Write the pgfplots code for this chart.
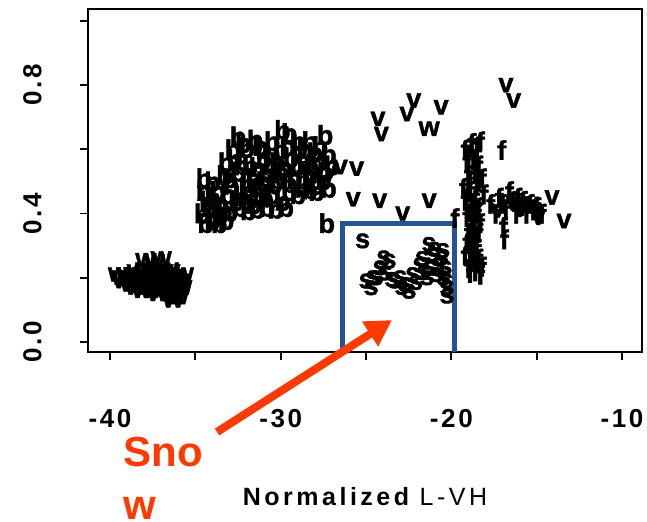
\documentclass[border=0pt]{standalone}
\usepackage{fontspec}
\setmainfont{Liberation Sans}
\usepackage{pgfplots}
\pgfplotsset{compat=1.18}
\usetikzlibrary{arrows.meta}
\newfontfamily\lab[LetterSpace=10]{Liberation Sans}
\newfontfamily\labx[LetterSpace=14]{Liberation Sans}
\newfontface\mkf[FakeBold=1.5]{Liberation Sans Bold}
\definecolor{boxblue}{RGB}{38,84,146}
\definecolor{snowred}{RGB}{255,58,0}
\newcommand{\mk}{\mkf\fontsize{13.5}{13.5}\selectfont}

\pgfplotstableread{
x y
-39.5 0.21
-39.2 0.19
-39.0 0.21
-38.8 0.18
-38.7 0.20
-38.5 0.17
-38.4 0.22
-38.2 0.19
-38.1 0.16
-38.0 0.21
-37.9 0.255
-37.8 0.18
-37.7 0.20
-37.6 0.16
-37.5 0.22
-37.4 0.25
-37.3 0.18
-37.2 0.15
-37.1 0.20
-37.0 0.26
-36.9 0.17
-36.8 0.21
-36.7 0.19
-36.6 0.15
-36.5 0.22
-36.4 0.18
-36.3 0.13
-36.2 0.20
-36.1 0.16
-36.0 0.14
-35.9 0.19
-35.7 0.21
-38.3 0.20
-37.0 0.18
-36.6 0.19
-37.5 0.19
-38.6 0.19
-36.9 0.22
-36.2 0.17
-35.8 0.17
-39.3 0.20
-38.9 0.195
-38.6 0.21
-38.3 0.175
-38.0 0.185
-37.7 0.17
-37.4 0.205
-37.2 0.225
-36.9 0.195
-36.7 0.165
-36.4 0.205
-36.1 0.19
-35.9 0.165
-36.6 0.225
-37.9 0.225
-38.1 0.20
-37.35 0.165
-36.2 0.145
-21.3 0.664
}\wdata

\pgfplotstableread{
x y
-32.5 0.64
-31.5 0.63
-30.5 0.625
-29.9 0.66
-29.5 0.65
-28.3 0.625
-27.4 0.645
-32.8 0.60
-32.0 0.605
-31.2 0.61
-30.5 0.59
-29.6 0.61
-28.9 0.60
-28.0 0.59
-27.2 0.585
-33.2 0.56
-32.7 0.57
-31.8 0.55
-31.0 0.57
-30.2 0.56
-29.4 0.575
-28.6 0.55
-27.8 0.565
-27.0 0.55
-34.5 0.51
-34.0 0.50
-33.3 0.52
-32.5 0.53
-31.6 0.51
-30.8 0.525
-30.0 0.53
-29.2 0.51
-28.3 0.52
-27.5 0.505
-34.5 0.47
-33.7 0.47
-32.9 0.49
-32.0 0.47
-31.2 0.48
-30.4 0.49
-29.5 0.47
-28.7 0.48
-27.9 0.47
-34.3 0.44
-33.5 0.43
-32.6 0.44
-31.6 0.43
-30.9 0.45
-29.9 0.44
-34.6 0.40
-33.9 0.39
-33.0 0.405
-31.9 0.41
-30.3 0.415
-29.7 0.42
-34.4 0.37
-33.6 0.37
-32.2 0.62
-31.0 0.60
-30.0 0.60
-29.0 0.625
-28.6 0.60
-27.7 0.61
-32.3 0.55
-31.4 0.545
-30.6 0.55
-29.8 0.545
-29.0 0.55
-28.2 0.545
-27.4 0.53
-33.0 0.51
-31.9 0.495
-31.0 0.50
-30.2 0.505
-29.5 0.495
-28.7 0.505
-27.9 0.49
-27.2 0.48
-34.0 0.45
-33.1 0.46
-32.3 0.455
-31.2 0.455
-30.5 0.46
-29.0 0.46
-28.3 0.475
-34.2 0.42
-33.3 0.41
-32.4 0.42
-31.4 0.415
-30.8 0.42
-34.0 0.38
-33.2 0.38
-27.3 0.37
}\bdata

\pgfplotstableread{
x y
-27.1 0.535
-26.5 0.545
-25.55 0.54
-25.75 0.445
-24.2 0.44
-22.85 0.40
-21.3 0.44
-24.3 0.695
-24.1 0.648
-22.6 0.71
-22.2 0.752
-20.6 0.731
-16.8 0.80
-16.35 0.752
-14.1 0.45
-13.4 0.377
-17.3 0.41
-16.4 0.435
-15.9 0.415
-15.3 0.43
-14.9 0.39
}\vdata

\pgfplotstableread{
x y
-25.2 0.315
-23.96 0.262
-23.65 0.252
-25.0 0.19
-24.4 0.20
-24.18 0.231
-24.7 0.169
-23.33 0.19
-23.0 0.20
-22.7 0.179
-22.27 0.21
-22.48 0.158
-21.85 0.24
-21.64 0.216
-21.43 0.20
-21.32 0.304
-21.1 0.273
-21.0 0.289
-20.8 0.24
-20.58 0.262
-20.47 0.20
-20.37 0.231
-20.26 0.169
-20.26 0.143
-24.6 0.20
-23.9 0.215
-23.5 0.195
-22.9 0.17
-22.1 0.185
-21.7 0.26
-21.2 0.23
-20.9 0.21
-20.5 0.285
-20.3 0.19
}\sdata

\pgfplotstableread{
x y
-19.2 0.60
-18.8 0.62
-18.5 0.61
-18.3 0.625
-19.1 0.56
-18.7 0.57
-18.4 0.55
-19.0 0.52
-18.6 0.53
-18.2 0.51
-19.3 0.48
-18.9 0.47
-18.5 0.49
-18.1 0.46
-19.2 0.44
-18.8 0.43
-18.4 0.42
-19.1 0.39
-18.7 0.38
-18.3 0.37
-19.0 0.34
-18.6 0.33
-18.9 0.30
-18.5 0.29
-19.2 0.27
-18.7 0.25
-18.4 0.26
-19.0 0.23
-18.6 0.22
-18.2 0.235
-19.0 0.58
-18.5 0.585
-18.9 0.50
-18.4 0.50
-19.1 0.45
-18.6 0.45
-18.9 0.405
-18.5 0.40
-18.8 0.355
-18.4 0.34
-19.1 0.31
-18.7 0.315
-18.9 0.27
-18.5 0.245
-18.9 0.215
-18.3 0.21
-17.7 0.43
-17.2 0.45
-16.8 0.41
-16.4 0.44
-16.0 0.42
-15.6 0.40
-15.2 0.41
-14.9 0.395
-17.4 0.40
-16.6 0.47
-16.1 0.45
-15.4 0.43
-17.0 0.43
-16.2 0.40
-15.8 0.44
-15.0 0.42
-14.7 0.40
-17.05 0.598
-16.95 0.36
-16.9 0.32
-19.8 0.386
}\fdata

\begin{document}
\begin{tikzpicture}
\begin{axis}[
  scale only axis, width=277pt, height=171.5pt,
  xmin=-41.29, xmax=-8.83, ymin=-0.031, ymax=1.037,
  clip=false,
  axis line style={line width=0.9pt},
  every tick/.style={line width=0.9pt, black},
  tick align=outside, major tick length=4pt,
  xtick pos=bottom, ytick pos=left,
  xtick={-40,-35,-30,-25,-20,-15,-10},
  xticklabels={-40,,-30,,-20,,-10},
  ytick={0,0.2,0.4,0.6,0.8,1.0},
  yticklabels={0.0,,0.4,,0.8,},
  xticklabel style={font=\lab\fontsize{13}{15}\selectfont\bfseries, anchor=base, inner sep=0pt},
  yticklabel style={font=\lab\fontsize{13}{15}\selectfont\bfseries, rotate=90, anchor=south, inner sep=0pt},
  xticklabel shift=33.5pt,
  yticklabel shift=19pt,
  xlabel={\bfseries Normalized \mdseries L-VH},
  xlabel style={font=\labx\fontsize{12.5}{15}\selectfont, at={(axis description cs:0.5,0)}, anchor=base, yshift=-76.5pt, inner sep=0pt},
  only marks,
]
\addplot[mark=text, text mark={w}, text mark as node=true, text mark style={font=\mk, inner sep=0pt}] table {\wdata};
\addplot[mark=text, text mark={b}, text mark as node=true, text mark style={font=\mk, inner sep=0pt}] table {\bdata};
\addplot[mark=text, text mark={v}, text mark as node=true, text mark style={font=\mk, inner sep=0pt}] table {\vdata};
\addplot[mark=text, text mark={s}, text mark as node=true, text mark style={font=\mk, inner sep=0pt}] table {\sdata};
\addplot[mark=text, text mark={f}, text mark as node=true, text mark style={font=\mk, inner sep=0pt}] table {\fdata};
\draw[boxblue, line width=2.5pt] (axis cs:-26.35,-0.031) -- (axis cs:-26.35,0.368) -- (axis cs:-19.79,0.368) -- (axis cs:-19.79,-0.031);
\draw[snowred, line width=4pt, -{Triangle[length=13pt,width=14pt]}] (axis cs:-33.73,-0.28) -- (axis cs:-23.48,0.0685);
\node[snowred, font=\fontsize{21}{25}\selectfont\bfseries, anchor=base west, inner sep=0pt] at (axis cs:-39.24,-0.389) {Sno};
\node[snowred, font=\fontsize{21}{25}\selectfont\bfseries, anchor=base west, inner sep=0pt] at (axis cs:-39.24,-0.551) {w};
\coordinate (ll) at (rel axis cs:0,0);
\end{axis}
\pgfresetboundingbox
\path[use as bounding box] ([shift={(-44pt,-84.5pt)}]ll) rectangle ([shift={(279.5pt,176pt)}]ll);
\end{tikzpicture}
\end{document}
